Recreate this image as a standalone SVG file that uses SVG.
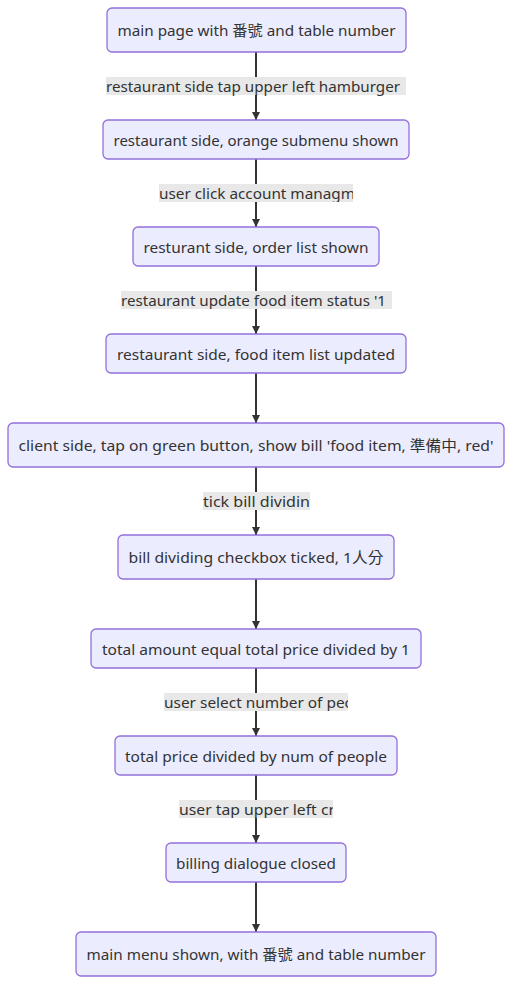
<svg xmlns="http://www.w3.org/2000/svg" width="512" height="984" viewBox="0 0 512 984">
<style>
.node rect{fill:#ECECFF;stroke:#9370DB;stroke-width:1.3}
text{font-family:"Noto Sans","Noto Sans CJK TC",sans-serif;font-size:15px;fill:#333;text-anchor:middle;dominant-baseline:central}
.edge{stroke:#333;stroke-width:2;fill:none}
.lbl{fill:#e8e8e8}
.ls{text-anchor:start}
</style>
<defs>
<marker id="arr" viewBox="0 0 10 10" refX="10" refY="5" markerWidth="4" markerHeight="4" orient="auto" markerUnits="strokeWidth">
<path d="M0,0 L10,5 L0,10 z" fill="#333"/>
</marker>
<clipPath id="c2"><rect x="159" y="184" width="194" height="18"/></clipPath>
<clipPath id="c3"><rect x="121" y="291" width="271" height="18"/></clipPath>
<clipPath id="c5"><rect x="203" y="492" width="107" height="18"/></clipPath>
<clipPath id="c7"><rect x="164" y="693" width="184" height="18"/></clipPath>
<clipPath id="c8"><rect x="179" y="800" width="154" height="18"/></clipPath>
</defs>
<rect width="512" height="984" fill="#fff"/>
<g id="edges">
<line class="edge" x1="256" y1="52" x2="256" y2="120" marker-end="url(#arr)"/>
<line class="edge" x1="256" y1="159" x2="256" y2="227" marker-end="url(#arr)"/>
<line class="edge" x1="256" y1="266" x2="256" y2="334" marker-end="url(#arr)"/>
<line class="edge" x1="256" y1="373" x2="256" y2="423" marker-end="url(#arr)"/>
<line class="edge" x1="256" y1="467" x2="256" y2="535" marker-end="url(#arr)"/>
<line class="edge" x1="256" y1="579" x2="256" y2="629" marker-end="url(#arr)"/>
<line class="edge" x1="256" y1="668" x2="256" y2="736" marker-end="url(#arr)"/>
<line class="edge" x1="256" y1="775" x2="256" y2="843" marker-end="url(#arr)"/>
<line class="edge" x1="256" y1="882" x2="256" y2="932" marker-end="url(#arr)"/>
<g id="label1"><rect class="lbl" x="106" y="77" width="300" height="18"/><text class="ls" x="106" y="86" textLength="294" lengthAdjust="spacingAndGlyphs">restaurant side tap upper left hamburger</text></g>
<g id="label2"><rect class="lbl" x="159" y="184" width="194" height="18"/><text class="ls" x="159" y="193" textLength="196" lengthAdjust="spacingAndGlyphs" clip-path="url(#c2)">user click account managm</text></g>
<g id="label3"><rect class="lbl" x="121" y="291" width="271" height="18"/><text class="ls" x="121" y="300" textLength="265" lengthAdjust="spacingAndGlyphs" clip-path="url(#c3)">restaurant update food item status '1</text></g>
<g id="label5"><rect class="lbl" x="203" y="492" width="107" height="18"/><text class="ls" x="203" y="501" textLength="107" lengthAdjust="spacingAndGlyphs" clip-path="url(#c5)">tick bill dividin</text></g>
<g id="label7"><rect class="lbl" x="164" y="693" width="184" height="18"/><text class="ls" x="164" y="702" textLength="188" lengthAdjust="spacingAndGlyphs" clip-path="url(#c7)">user select number of pec</text></g>
<g id="label8"><rect class="lbl" x="179" y="800" width="154" height="18"/><text class="ls" x="179" y="809" textLength="156" lengthAdjust="spacingAndGlyphs" clip-path="url(#c8)">user tap upper left cr</text></g>
</g>
<g id="n1" class="node"><rect x="107" y="8" width="299" height="44" rx="5"/><text x="256.5" y="30" textLength="278" lengthAdjust="spacingAndGlyphs">main page with 番號 and table number</text></g>
<g id="n2" class="node"><rect x="103" y="120" width="306" height="39" rx="5"/><text x="256" y="139.5" textLength="285" lengthAdjust="spacingAndGlyphs">restaurant side, orange submenu shown</text></g>
<g id="n3" class="node"><rect x="133" y="227" width="246" height="39" rx="5"/><text x="256" y="246.5" textLength="225" lengthAdjust="spacingAndGlyphs">resturant side, order list shown</text></g>
<g id="n4" class="node"><rect x="106" y="334" width="300" height="39" rx="5"/><text x="256" y="353.5" textLength="278" lengthAdjust="spacingAndGlyphs">restaurant side, food item list updated</text></g>
<g id="n5" class="node"><rect x="8" y="423" width="496" height="44" rx="5"/><text x="256" y="445" textLength="475" lengthAdjust="spacingAndGlyphs">client side, tap on green button, show bill 'food item, 準備中, red'</text></g>
<g id="n6" class="node"><rect x="118" y="535" width="276" height="44" rx="5"/><text x="256" y="557" textLength="255" lengthAdjust="spacingAndGlyphs">bill dividing checkbox ticked, 1人分</text></g>
<g id="n7" class="node"><rect x="91" y="629" width="330" height="39" rx="5"/><text x="256" y="648.5" textLength="308" lengthAdjust="spacingAndGlyphs">total amount equal total price divided by 1</text></g>
<g id="n8" class="node"><rect x="115" y="736" width="282" height="39" rx="5"/><text x="256" y="755.5" textLength="262" lengthAdjust="spacingAndGlyphs">total price divided by num of people</text></g>
<g id="n9" class="node"><rect x="166" y="843" width="180" height="39" rx="5"/><text x="256" y="862.5" textLength="160" lengthAdjust="spacingAndGlyphs">billing dialogue closed</text></g>
<g id="n10" class="node"><rect x="76" y="932" width="360" height="44" rx="5"/><text x="256" y="954" textLength="339" lengthAdjust="spacingAndGlyphs">main menu shown, with 番號 and table number</text></g>
</svg>
